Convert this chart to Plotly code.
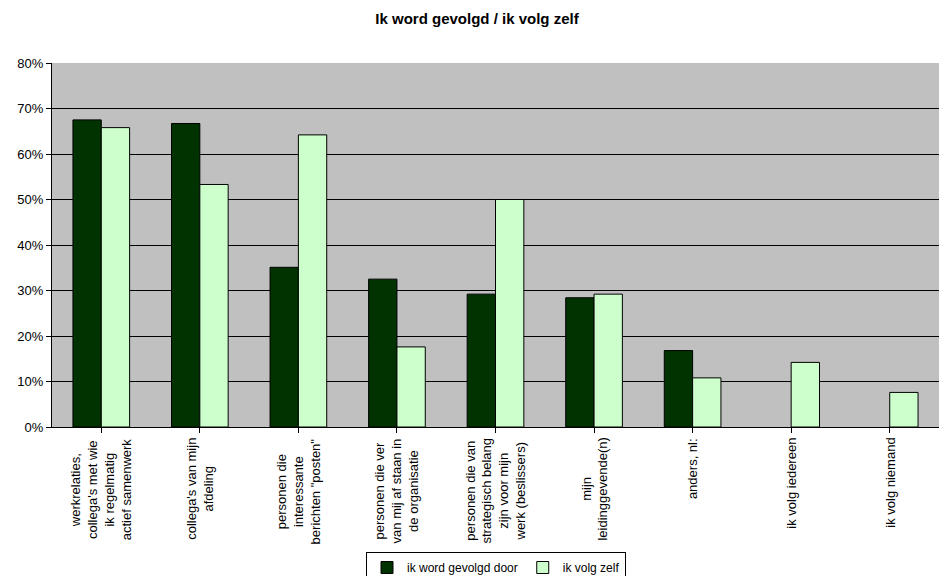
import plotly.graph_objects as go

categories = [
    "werkrelaties,<br>collega's met wie<br>ik regelmatig<br>actief samenwerk",
    "collega's van mijn<br>afdeling",
    "personen die<br>interessante<br>berichten \"posten\"",
    "personen die ver<br>van mij af staan in<br>de organisatie",
    "personen die van<br>strategisch belang<br>zijn voor mijn<br>werk (beslissers)",
    "mijn<br>leidinggevende(n)",
    "anders, nl:",
    "ik volg iedereen",
    "ik volg niemand",
]
gevolgd_door = [0.675, 0.667, 0.351, 0.325, 0.292, 0.284, 0.168, None, None]
volg_zelf = [0.658, 0.533, 0.642, 0.176, 0.500, 0.292, 0.108, 0.142, 0.076]
series_names = ["ik word gevolgd door", "ik volg zelf"]
title_text = "Ik word gevolgd / ik volg zelf"

FONT = "Liberation Sans, Arial, sans-serif"
idx = list(range(len(categories)))

fig = go.Figure()
fig.add_trace(go.Bar(x=idx, y=gevolgd_door, name=series_names[0],
                     marker=dict(color="#003300", line=dict(color="#000000", width=1))))
fig.add_trace(go.Bar(x=idx, y=volg_zelf, name=series_names[1],
                     marker=dict(color="#CCFFCC", line=dict(color="#000000", width=1))))

for i, c in zip(idx, categories):
    fig.add_annotation(x=i, y=0, xref="x", yref="paper", text=c, textangle=-90,
                       showarrow=False, yanchor="top", xanchor="center", align="center",
                       yshift=-9, font=dict(family=FONT, size=13, color="#000000"))

fig.update_layout(
    width=939, height=576,
    margin=dict(l=52, r=0, t=63, b=149, autoexpand=False),
    paper_bgcolor="#FFFFFF", plot_bgcolor="#C0C0C0",
    barmode="group", bargap=0.425, bargroupgap=0,
    font=dict(family=FONT, size=13, color="#000000"),
    title=dict(text="<b>" + title_text + "</b>", x=477 / 939, xanchor="center",
               y=1 - 19 / 576, yanchor="middle", xref="container", yref="container",
               font=dict(family=FONT, size=15, color="#000000")),
    showlegend=True,
    legend=dict(orientation="h", x=(496 - 52) / 887, xanchor="center", y=-(552 - 427) / 364,
                yanchor="top",
                bordercolor="#000000", borderwidth=1, bgcolor="#FFFFFF",
                font=dict(family=FONT, size=12), itemwidth=30,
                tracegroupgap=0),
    xaxis=dict(range=[-0.5, len(categories) - 0.5], tickmode="array", tickvals=idx,
               showticklabels=False, ticks="outside", ticklen=5, tickcolor="#000000",
               tickson="boundaries", showline=True, linecolor="#000000", linewidth=1,
               showgrid=False, zeroline=False, fixedrange=True),
    yaxis=dict(range=[0, 0.8], dtick=0.1, tickformat=".0%", ticks="outside", ticklen=5,
               tickcolor="#000000", showline=True, linecolor="#000000", linewidth=1,
               showgrid=True, gridcolor="#000000", gridwidth=1, zeroline=False,
               tickfont=dict(family=FONT, size=13)),
)

fig.write_html("out.html", config={"displayModeBar": False},
               post_script="document.body.style.margin='0';")
